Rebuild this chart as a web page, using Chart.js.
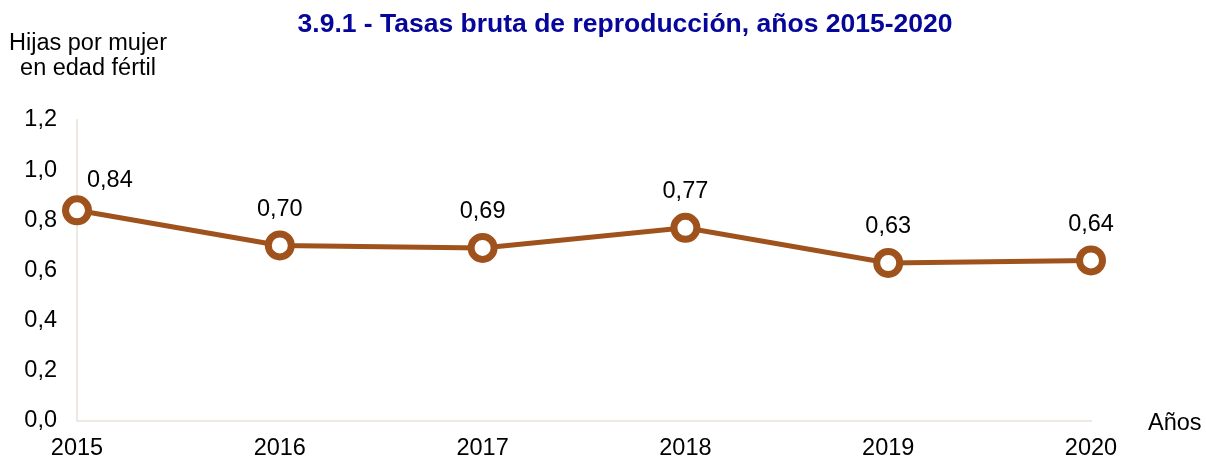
<!DOCTYPE html>
<html><head><meta charset="utf-8">
<script src="https://cdn.jsdelivr.net/npm/chart.js@4/dist/chart.umd.min.js"></script>
<style>html,body{margin:0;padding:0;background:#fff}#w{width:1206px;height:460px}</style>
</head><body><div id="w"><canvas id="c" width="1206" height="460"></canvas></div>
<script>
const categories = ['2015','2016','2017','2018','2019','2020'];
const values = [0.84, 0.70, 0.69, 0.77, 0.63, 0.64];
const yTicks = [0, 0.2, 0.4, 0.6, 0.8, 1.0, 1.2];
const FONT = '"Liberation Sans", Arial, sans-serif';
const fmt = v => v.toFixed(2).replace('.', ',');

const overlay = {
  id: 'overlay',
  afterDatasetsDraw(chart) {
    const ctx = chart.ctx;
    const meta = chart.getDatasetMeta(0);
    ctx.save();
    ctx.fillStyle = '#000';
    ctx.font = '23.5px ' + FONT;
    ctx.textBaseline = 'middle';
    meta.data.forEach((pt, i) => {
      if (i === 0) { ctx.textAlign = 'left'; ctx.fillText(fmt(values[i]), pt.x + 10, pt.y - 30); }
      else { ctx.textAlign = 'center'; ctx.fillText(fmt(values[i]), pt.x, pt.y - 36); }
    });
    ctx.textAlign = 'center';
    ctx.fillText('Hijas por mujer', 88, 44);
    ctx.fillText('en edad fértil', 88, 69);
    ctx.textAlign = 'left';
    ctx.fillText('Años', 1148, 424);
    ctx.font = 'bold 26.5px ' + FONT;
    ctx.fillStyle = '#06069A';
    ctx.textAlign = 'center';
    ctx.fillText('3.9.1 - Tasas bruta de reproducción, años 2015-2020', 625, 25);
    ctx.restore();
  }
};

new Chart(document.getElementById('c'), {
  type: 'line',
  data: { labels: categories, datasets: [{
    data: values,
    borderColor: '#A0521C',
    borderWidth: 5,
    pointRadius: 11.5,
    pointBorderWidth: 7,
    pointBackgroundColor: '#fff',
    pointBorderColor: '#A0521C',
    tension: 0
  }]},
  options: {
    responsive: false, animation: false,
    layout: { padding: { left: 0, right: 115, top: 120, bottom: 0 } },
    plugins: { legend: { display: false }, tooltip: { enabled: false }, title: { display: false } },
    scales: {
      x: {
        offset: false,
        grid: { display: false, drawTicks: false },
        border: { color: '#EEEAE1', width: 2 },
        ticks: { color: '#000', font: { size: 23.5, family: FONT }, padding: 13, maxRotation: 0, autoSkip: false },
        afterFit(s) { s.height = 39; }
      },
      y: {
        min: 0, max: 1.2,
        afterBuildTicks(s) { s.ticks = yTicks.map(v => ({ value: v })); },
        grid: { display: false, drawTicks: false },
        border: { color: '#EEEAE1', width: 2 },
        ticks: { color: '#000', font: { size: 23.5, family: FONT }, padding: 20, callback: v => v.toFixed(1).replace('.', ',') },
        afterFit(s) { s.width = 77; }
      }
    }
  },
  plugins: [overlay]
});
</script></body></html>
